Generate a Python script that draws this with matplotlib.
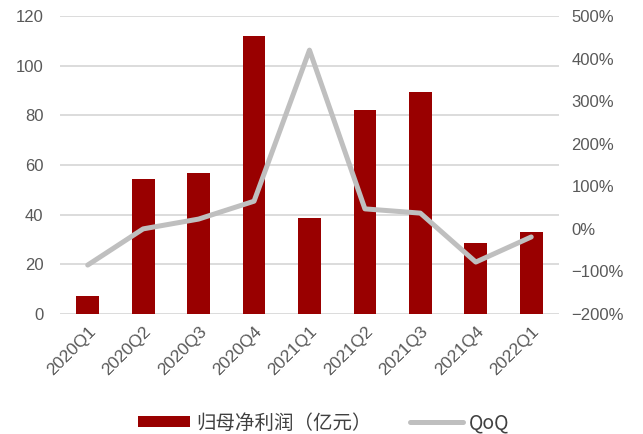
import numpy as np
import matplotlib
matplotlib.use('Agg')
import matplotlib.pyplot as plt
from matplotlib.ticker import FuncFormatter

plt.rcParams['font.family'] = ['Liberation Sans', 'Noto Sans CJK SC', 'DejaVu Sans']

quarters = ['2020Q1', '2020Q2', '2020Q3', '2020Q4', '2021Q1', '2021Q2', '2021Q3', '2021Q4', '2022Q1']
profit = [7.2, 54.4, 56.8, 112.0, 38.7, 82.2, 89.4, 28.6, 33.0]
qoq = [-85, 0, 23, 65, 420, 47, 37, -78, -19]

fig = plt.figure(figsize=(6.43, 4.34), dpi=100)
ax = fig.add_axes([0.0933, 0.2765, 0.776, 0.6865])
x = np.arange(len(quarters))
ax.bar(x, profit, width=0.41, color='#990000', label='归母净利润（亿元）', zorder=2)
ax.set_xlim(-0.5, 8.5)
ax.set_ylim(0, 120)
ax.set_yticks(np.arange(0, 121, 20))
ax.yaxis.grid(True, color='#D9D9D9', linewidth=1.3, zorder=0)
ax.set_axisbelow(True)
for s in ax.spines.values():
    s.set_visible(False)
ax.tick_params(axis='y', length=0, labelsize=12, labelcolor='#595959', pad=12)
ax.set_xticks(x)
ax.set_xticklabels(quarters, rotation=45, ha='right', rotation_mode='anchor', fontsize=12.5, color='#595959')
ax.tick_params(axis='x', length=0, pad=7)

ax2 = ax.twinx()
ax2.plot(x, qoq, color='#BFBFBF', linewidth=3.6, label='QoQ', solid_capstyle='round', zorder=3)
ax2.set_ylim(-200, 500)
ax2.set_yticks(np.arange(-200, 501, 100))
ax2.yaxis.set_major_formatter(FuncFormatter(lambda v, p: '%d%%' % v if v >= 0 else '\u2212%d%%' % -v))
for s in ax2.spines.values():
    s.set_visible(False)
ax2.tick_params(length=0, labelsize=12, labelcolor='#595959', pad=9)

h1, l1 = ax.get_legend_handles_labels()
h2, l2 = ax2.get_legend_handles_labels()
leg = fig.legend(h1 + h2, l1 + l2, loc='center', bbox_to_anchor=(0.503, 0.025), ncol=2, frameon=False,
                 handlelength=2.7, handleheight=0.5, handletextpad=0.3, columnspacing=2.0,
                 prop={'family': ['Noto Sans CJK SC', 'DejaVu Sans'], 'size': 14})
for t in leg.get_texts():
    t.set_color('#404040')

fig.savefig('out.png', dpi=100)
